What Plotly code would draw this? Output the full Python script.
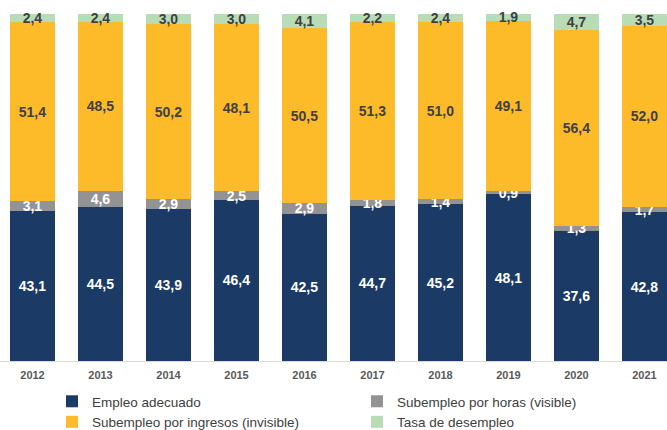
import plotly.graph_objects as go

years = ["2012", "2013", "2014", "2015", "2016", "2017", "2018", "2019", "2020", "2021"]
empleo_adecuado = [43.1, 44.5, 43.9, 46.4, 42.5, 44.7, 45.2, 48.1, 37.6, 42.8]
subempleo_horas = [3.1, 4.6, 2.9, 2.5, 2.9, 1.8, 1.4, 0.9, 1.3, 1.7]
subempleo_ingresos = [51.4, 48.5, 50.2, 48.1, 50.5, 51.3, 51.0, 49.1, 56.4, 52.0]
tasa_desempleo = [2.4, 2.4, 3.0, 3.0, 4.1, 2.2, 2.4, 1.9, 4.7, 3.5]

series = [
    ("Empleo adecuado", empleo_adecuado, "#1B3A66", "white"),
    ("Subempleo por horas (visible)", subempleo_horas, "#939393", "white"),
    ("Subempleo por ingresos (invisible)", subempleo_ingresos, "#FDBB2A", "#404040"),
    ("Tasa de desempleo", tasa_desempleo, "#B8DDB6", "#404040"),
]

def fmt(v):
    return f"{v:.1f}".replace(".", ",")

fig = go.Figure()
for name, vals, color, tcolor in series:
    fig.add_trace(go.Bar(
        x=years, y=vals, name=name,
        marker=dict(color=color, line=dict(width=0)),
        width=0.66,
        text=[fmt(v) for v in vals],
        textposition="inside",
        insidetextanchor="middle",
        textangle=0,
        textfont=dict(family="Liberation Sans, Arial, sans-serif", size=14, color=tcolor, weight="bold"),
        cliponaxis=False,
    ))

fig.update_layout(
    barmode="stack",
    width=667, height=430,
    margin=dict(l=0, r=0, t=14, b=69, autoexpand=False),
    paper_bgcolor="white", plot_bgcolor="white",
    font=dict(family="Liberation Sans, Arial, sans-serif", size=14, color="#404040"),
    uniformtext=dict(mode="show", minsize=14),
    showlegend=True,
    legend=dict(
        orientation="h", x=52/667, xanchor="left",
        yref="container", y=(430-386)/430, yanchor="top",
        entrywidth=260, entrywidthmode="pixels",
        font=dict(size=13.5, color="#404040"),
        traceorder="normal", tracegroupgap=0,
        itemsizing="constant",
    ),
    xaxis=dict(
        type="category", range=[-0.478, 9.331],
        showline=True, linecolor="#D9D9D9", linewidth=1,
        ticks="outside", ticklen=4, tickcolor="rgba(0,0,0,0)", showgrid=False,
        tickfont=dict(size=11, color="#595959", weight="bold"),
    ),
    yaxis=dict(range=[0, 100], visible=False, showgrid=False),
    bargap=0.34,
)

fig.write_html("out.html")
